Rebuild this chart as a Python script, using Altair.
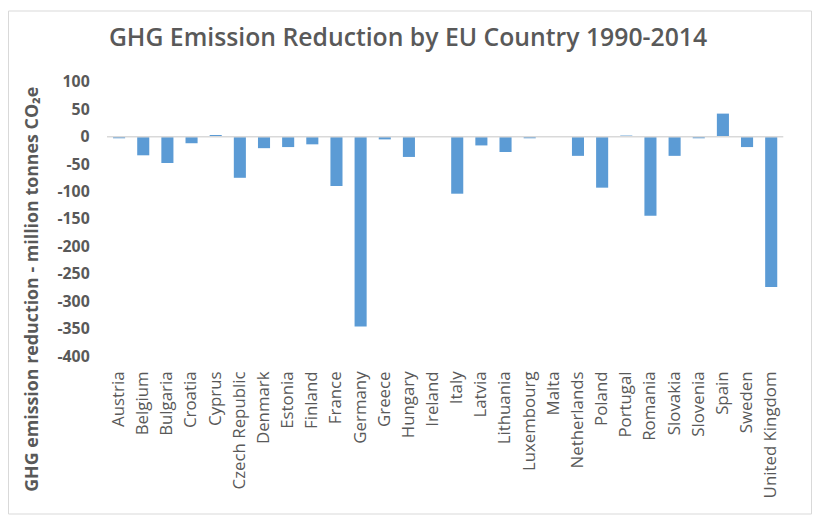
import altair as alt
import pandas as pd

countries = ["Austria", "Belgium", "Bulgaria", "Croatia", "Cyprus", "Czech Republic",
             "Denmark", "Estonia", "Finland", "France", "Germany", "Greece", "Hungary",
             "Ireland", "Italy", "Latvia", "Lithuania", "Luxembourg", "Malta",
             "Netherlands", "Poland", "Portugal", "Romania", "Slovakia", "Slovenia",
             "Spain", "Sweden", "United Kingdom"]
reduction = [-3, -34, -48, -12, 3, -75, -21, -19, -14, -90, -346, -5, -37,
             0.3, -104, -16, -28, -3, 0.2, -35, -93, 2, -144, -35, -3, 42, -19, -274]
y_ticks = [-400, -350, -300, -250, -200, -150, -100, -50, 0, 50, 100]
title_text = ["GHG Emission Reduction by EU Country 1990-2014"]
y_title = "GHG emission reduction - million tonnes CO₂e"

df = pd.DataFrame({"country": countries, "value": reduction})

W, H = 683, 277
PAD_L, PAD_T, PAD_R, PAD_B = 100, 72, 29, 160
GRAY = "#595959"
FONT = "Open Sans"

x = alt.X("country:N", sort=None, title=None,
          scale=alt.Scale(paddingInner=0.5, paddingOuter=0.25),
          axis=alt.Axis(labelAngle=-90, labelPadding=15, ticks=False, domain=False,
                        labelFontSize=17, labelColor=GRAY, labelFont=FONT))

y_axis = alt.Axis(values=y_ticks, grid=False, domain=False,
                  ticks=False, labelPadding=18, labelFontSize=16,
                  labelOverlap=False, labelExpr="toString(datum.value)",
                  labelFontWeight="bold", labelColor=GRAY, labelFont=FONT,
                  titleFontSize=18, titleFontWeight="bold", titleColor=GRAY,
                  titleFont=FONT, titleAngle=270, titleX=-75, titleY=209,
                  titleAlign="center", titleBaseline="middle")
y_scale = alt.Scale(domain=[-400, 100], nice=False)

bars = alt.Chart(df).mark_bar(color="#5b9bd5").encode(
    x=x, y=alt.Y("value:Q", title=y_title, scale=y_scale, axis=y_axis))

zero = alt.Chart(pd.DataFrame({"value": [0]})).mark_rule(color="#d9d9d9", strokeWidth=1.5).encode(
    y=alt.Y("value:Q", title=y_title, scale=y_scale, axis=y_axis),
    x=alt.value(0), x2=alt.value(W))

border = alt.Chart(pd.DataFrame({"a": [0]})).mark_rect(
    fill=None, stroke="#d9d9d9", strokeWidth=1).encode(
    x=alt.value(-PAD_L + 0.5), x2=alt.value(W + PAD_R - 0.5),
    y=alt.value(-PAD_T + 0.5), y2=alt.value(H + PAD_B - 0.5))

title = alt.Chart(pd.DataFrame({"t": title_text})).mark_text(
    font=FONT, fontSize=25, fontWeight=600, color=GRAY, align="center",
    baseline="alphabetic").encode(text="t:N", x=alt.value(304), y=alt.value(-36.5))

chart = alt.layer(bars, border, zero, title).properties(
    width=W, height=H,
    autosize=alt.AutoSizeParams(type="none"),
    padding={"left": PAD_L, "top": PAD_T, "right": PAD_R, "bottom": PAD_B},
).configure_view(stroke=None)

chart.save("out.html", embed_options={"renderer": "svg", "actions": False})
